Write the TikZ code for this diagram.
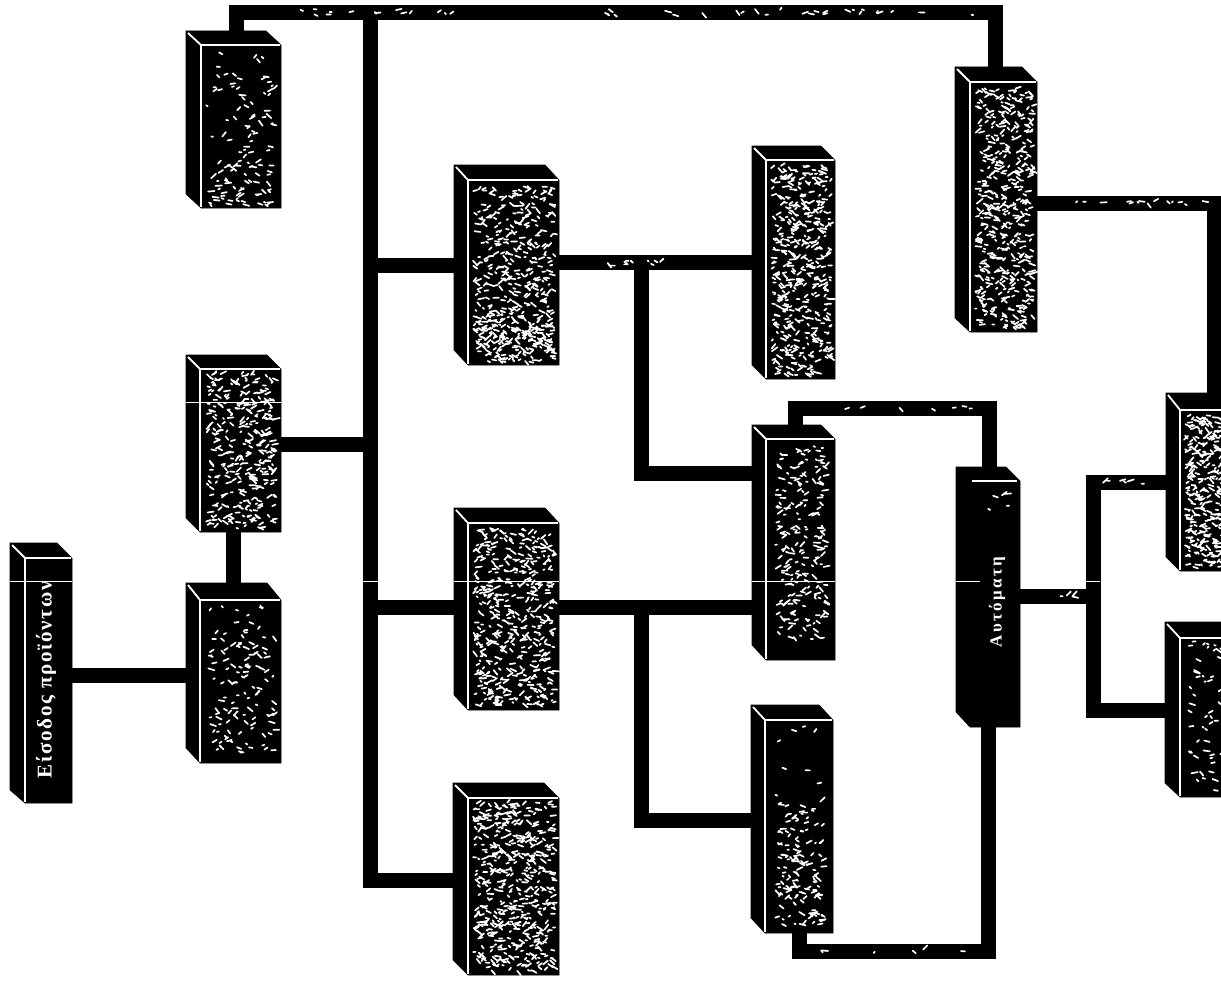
\documentclass[tikz,border=0pt]{standalone}
\usepackage{fontspec}
\setmainfont{Liberation Serif}
\tikzset{
  pipe/.style={draw=black,line width=15pt,line join=miter,line cap=butt},
  body/.style={fill=black,draw=black,line width=0.6pt},
  edgeline/.style={draw=white,line width=1.8pt},
  speck/.style={draw=white,line width=1.7pt,line cap=round},
  scanline/.style={draw=white,line width=0.9pt},
  port/.style={inner sep=0pt,outer sep=0pt,rectangle},
  inlabel/.style={text=white,font=\bfseries\fontsize{21}{21}\selectfont\addfontfeature{LetterSpace=8},rotate=90,inner sep=0pt},
  darklabel/.style={text=white,font=\bfseries\fontsize{17}{17}\selectfont\addfontfeature{LetterSpace=14},rotate=90,inner sep=0pt}
}
% name, x0 (back left), x1 (front left), x2 (right), y0 (top), y1 (front top), y2 (bottom), y3 (left bottom)
\newcommand{\solidblock}[8]{%
  \path[body] (#2,#5) -- ({#4-(#3-#2)},#5) -- (#4,#6) -- (#4,#7) -- (#3,#7) -- (#2,#8) -- cycle;
  \node[port,anchor=north west,minimum width={#4-#2},minimum height={#7-#5}] (#1) at (#2,#5) {};
}
\newcommand{\litblock}[8]{%
  \solidblock{#1}{#2}{#3}{#4}{#5}{#6}{#7}{#8}
  \draw[edgeline] (#2+2,#5+2) -- (#3,#6) -- (#4-1,#6);
  \draw[edgeline] (#3,#6) -- (#3,#7-1);
}
% x1,y1,x2,y2,count
\newcommand{\specks}[5]{%
  \foreach \i in {1,...,#5}{%
    \pgfmathsetmacro{\sx}{#1+rnd*(#3-#1)}%
    \pgfmathsetmacro{\sy}{#2+rnd*(#4-#2)}%
    \pgfmathsetmacro{\sa}{(rnd-0.5)*110}%
    \pgfmathsetmacro{\sl}{1.5+rnd*5}%
    \draw[speck] (\sx,\sy) -- ++(\sa:\sl);
  }%
}
\begin{document}
\begin{tikzpicture}[x=1pt,y=-1pt]
\useasboundingbox (0,0) rectangle (1221,982);
\clip (0,0) rectangle (1221,982);
\pgfmathsetseed{4217}

\litblock{input}{10}{25}{72}{543}{558}{803}{790}
\litblock{blockB}{186}{200}{281}{583}{600}{763}{748}
\litblock{blockC}{186}{200}{281}{355}{369}{532}{518}
\litblock{blockA}{186}{201}{281}{31}{45}{208}{194}
\litblock{blockD}{454}{468}{559}{165}{180}{365}{350}
\litblock{blockE}{454}{468}{559}{508}{523}{710}{695}
\litblock{blockF}{453}{468}{559}{783}{798}{975}{960}
\litblock{blockG}{752}{766}{835}{146}{160}{379}{365}
\litblock{blockH}{752}{766}{835}{425}{439}{660}{645}
\litblock{blockI}{751}{765}{833}{705}{720}{933}{918}
\litblock{blockJ}{955}{970}{1037}{67}{82}{332}{318}
\solidblock{blockK}{956}{970}{1020}{467}{481}{727}{712}
\draw[edgeline] (972,481) -- (1017,481);
\litblock{blockL}{1166}{1180}{1260}{393}{410}{571}{557}
\litblock{blockM}{1165}{1180}{1260}{622}{638}{797}{783}

\coordinate (busTop) at (370,13);
\coordinate (busD) at (370,265);
\coordinate (busC) at (370,444);
\coordinate (busE) at (370,607);
\coordinate (busF) at (370,880);
\coordinate (topA) at (236,13);
\coordinate (topJ) at (995,13);
\coordinate (rowIn) at (0,675);
\coordinate (colBC) at (233,0);
\coordinate (rowDG) at (641,262);
\coordinate (rowEH) at (641,607);
\coordinate (rowH) at (641,473);
\coordinate (rowI) at (641,820);
\coordinate (hkA) at (795,408);
\coordinate (hkB) at (989,408);
\coordinate (kiA) at (988,951);
\coordinate (kiB) at (799,951);
\coordinate (splitK) at (1093,596);
\coordinate (splitL) at (1093,482);
\coordinate (splitM) at (1093,710);
\coordinate (jlA) at (1214,203);

\draw[pipe] (topA |- blockA.north) -- (topA) -- (topJ) -- (topJ |- blockJ.north);
\draw[pipe] (busTop) -- (busF) -- (blockF.west |- busF);
\draw[pipe] (busD) -- (blockD.west |- busD);
\draw[pipe] (blockC.east |- busC) -- (busC);
\draw[pipe] (busE) -- (blockE.west |- busE);
\draw[pipe] (input.east |- rowIn) -- (blockB.west |- rowIn);
\draw[pipe] (colBC |- blockC.south) -- (colBC |- blockB.north);
\draw[pipe] (blockD.east |- rowDG) -- (blockG.west |- rowDG);
\draw[pipe] (rowDG) -- (rowH) -- (blockH.west |- rowH);
\draw[pipe] (blockE.east |- rowEH) -- (blockH.west |- rowEH);
\draw[pipe] (rowEH) -- (rowI) -- (blockI.west |- rowI);
\draw[pipe] (hkA |- blockH.north) -- (hkA) -- (hkB) -- (hkB |- blockK.north);
\draw[pipe] (kiA |- blockK.south) -- (kiA) -- (kiB) -- (kiB |- blockI.south);
\draw[pipe] (blockK.east |- splitK) -- (splitK);
\draw[pipe] (blockL.west |- splitL) -- (splitL) -- (splitM) -- (blockM.west |- splitM);
\draw[pipe] (blockJ.east |- jlA) -- (jlA) -- (jlA |- blockL.north);

\node[inlabel] (inputText) at (46,680) {Είσοδος προϊόντων};
\node[darklabel] (darkText) at (997,602) {Αυτόματη};

\specks{206}{50}{274}{160}{55}
\specks{206}{160}{272}{205}{60}
\specks{208}{605}{274}{755}{120}
\specks{206}{374}{274}{528}{320}
\specks{473}{186}{553}{362}{360}
\specks{473}{310}{553}{362}{130}
\specks{473}{528}{553}{706}{450}
\specks{473}{802}{553}{971}{500}
\specks{771}{165}{830}{375}{440}
\specks{775}{445}{825}{640}{210}
\specks{775}{800}{822}{925}{140}
\specks{775}{725}{822}{800}{8}
\specks{975}{88}{1032}{328}{480}
\specks{1184}{415}{1221}{567}{280}
\specks{1188}{640}{1221}{792}{50}
\specks{985}{490}{1015}{510}{5}
\specks{300}{9}{470}{15}{14}
\specks{600}{9}{980}{15}{26}
\specks{590}{260}{670}{266}{10}
\specks{1045}{594}{1085}{598}{4}
\specks{1100}{480}{1160}{484}{6}
\specks{1050}{201}{1205}{205}{14}
\specks{820}{406}{970}{410}{7}
\specks{820}{949}{980}{953}{6}

\draw[scanline] (10,581) -- (72,581);
\draw[scanline] (363,581) -- (378,581);
\draw[scanline] (454,581) -- (559,581);
\draw[scanline] (752,581) -- (835,581);
\draw[scanline] (956,581) -- (980,581);
\draw[scanline] (1085,581) -- (1100,581);
\draw[scanline] (186,402) -- (281,402);
\end{tikzpicture}
\end{document}
